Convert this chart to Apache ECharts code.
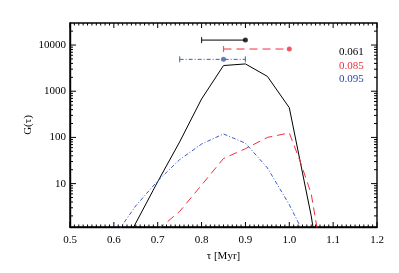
<!DOCTYPE html>
<html>
<head>
<meta charset="utf-8">
<script src="https://cdn.jsdelivr.net/npm/echarts@6/dist/echarts.min.js"></script>
<style>html,body{margin:0;padding:0;background:#fff}#c{width:399px;height:273px}#err{position:absolute;left:0;top:0;font:8px sans-serif;color:#c00;max-width:399px}</style>
</head>
<body>
<div id="c"></div>
<div id="err"></div>
<script>
window.onerror = function (msg, src, line, col) {
  document.getElementById('err').textContent += ' ERR: ' + msg + ' @' + line + ':' + col;
};
// tau grid [Myr] and G(tau) values for each series
const tauBlack = [0.60, 0.65, 0.70, 0.75, 0.80, 0.85, 0.90, 0.95, 1.00, 1.05, 1.10];
const gBlack   = [0.17, 1.4, 11, 80, 680, 3600, 3900, 2100, 440, 2.0, 0.002];
const tauRed   = [0.70, 0.75, 0.80, 0.85, 0.90, 0.95, 1.00, 1.025, 1.05, 1.10];
const gRed     = [1.0, 2.5, 9.3, 35, 57, 100, 125, 30, 6, 0.01];
const tauBlue  = [0.60, 0.65, 0.70, 0.75, 0.80, 0.85, 0.90, 0.95, 1.00, 1.05];
const gBlue    = [0.7, 3.3, 11.5, 33, 72, 119, 75, 22, 3.5, 0.4];
// peak markers (dot) with horizontal range bars
const barLo   = [0.80, 0.85, 0.75];
const barHi   = [0.90, 1.00, 0.90];
const peakTau = [0.90, 1.00, 0.85];
const peakG   = [12800, 8200, 4900];
const legendNames = ['0.061', '0.085', '0.095'];
const colors = ['#000000', '#ee2f3c', '#3c5cbc'];
const legendColors = ['#000000', '#e8303c', '#2a46a8'];
const dashTypes = ['solid', [8, 5], [4, 2, 1, 2]];
const xTicks = [0.5, 0.6, 0.7, 0.8, 0.9, 1.0, 1.1, 1.2];
const yMajor = [10, 100, 1000, 10000];

const X_MIN = 0.5, X_MAX = 1.2, Y_MIN = 1.15, Y_MAX = 30000;
const xMinor = [];
for (let i = 50; i <= 120; i++) if (i % 10 !== 0) xMinor.push(i / 100);
const yMinor = [];
for (let e = 0; e <= 4; e++) for (let k = 2; k <= 9; k++) {
  const v = k * Math.pow(10, e);
  if (v > Y_MIN && v < Y_MAX) yMinor.push(v);
}
const FONT = 'Liberation Serif';
const zip = (a, b) => a.map((t, i) => [t, b[i]]);

// inward tick combs on the four box edges, placed through the axes' scales
function xTickSeries(vals, len) {
  return {
    type: 'custom', silent: true, animation: false, z: 10,
    encode: {x: 0, y: 1},
    data: vals.map(v => [v, 100]),
    renderItem: function (params, api) {
      const b = api.coord([api.value(0), Y_MIN]);
      const t = api.coord([api.value(0), Y_MAX]);
      return {type: 'group', children: [
        {type: 'line', shape: {x1: b[0], y1: b[1], x2: b[0], y2: b[1] - len}, style: {stroke: '#000', lineWidth: 1}},
        {type: 'line', shape: {x1: t[0], y1: t[1], x2: t[0], y2: t[1] + len}, style: {stroke: '#000', lineWidth: 1}}
      ]};
    }
  };
}
function yTickSeries(vals, len) {
  return {
    type: 'custom', silent: true, animation: false, z: 10,
    encode: {x: 0, y: 1},
    data: vals.map(v => [0.8, v]),
    renderItem: function (params, api) {
      const l = api.coord([X_MIN, api.value(1)]);
      const r = api.coord([X_MAX, api.value(1)]);
      return {type: 'group', children: [
        {type: 'line', shape: {x1: l[0], y1: l[1], x2: l[0] + len, y2: l[1]}, style: {stroke: '#000', lineWidth: 1}},
        {type: 'line', shape: {x1: r[0], y1: r[1], x2: r[0] - len, y2: r[1]}, style: {stroke: '#000', lineWidth: 1}}
      ]};
    }
  };
}

const series = [
  xTickSeries(xTicks, 5),
  xTickSeries(xMinor, 2.5),
  yTickSeries(yMajor, 6),
  yTickSeries(yMinor, 3),
  {name: legendNames[0], type: 'line', data: zip(tauBlack, gBlack), symbol: 'none',
    lineStyle: {color: colors[0], width: 1}},
  {name: legendNames[1], type: 'line', data: zip(tauRed, gRed), symbol: 'none',
    lineStyle: {color: colors[1], width: 1, type: dashTypes[1]}},
  {name: legendNames[2], type: 'line', data: zip(tauBlue, gBlue), symbol: 'none',
    lineStyle: {color: colors[2], width: 1, type: dashTypes[2]}}
];
for (let i = 0; i < 3; i++) {
  // range bar
  series.push({type: 'line', symbol: 'none', z: 3,
    data: [[barLo[i], peakG[i]], [barHi[i], peakG[i]]],
    lineStyle: {color: colors[i], width: 1, type: dashTypes[i]}});
  // end caps (left cap always; right cap where the bar extends past the dot)
  const caps = [[barLo[i], peakG[i]]];
  if (barHi[i] !== peakTau[i]) caps.push([barHi[i], peakG[i]]);
  series.push({type: 'scatter', symbol: 'rect', symbolSize: [1.2, 6], z: 3, data: caps,
    itemStyle: {color: colors[i]}});
  // peak dot
  series.push({type: 'scatter', symbol: 'circle', symbolSize: 5, z: 4,
    data: [[peakTau[i], peakG[i]]], itemStyle: {color: colors[i]}});
}

const txt = (s, c) => ({text: s, fill: c, font: '11px "' + FONT + '"'});
const graphics = legendNames.map((n, i) => ({
  type: 'text', left: 339, top: 47 + i * 13.5, style: txt(n, legendColors[i])
})).concat([
  {type: 'text', x: 28.5, y: 125, rotation: Math.PI / 2,
   style: Object.assign(txt('G(τ)', '#000'), {align: 'center', verticalAlign: 'middle'})},
  {type: 'text', x: 223.5, y: 256.5,
   style: Object.assign(txt('τ [Myr]', '#000'), {align: 'center', verticalAlign: 'middle'})}
]);

const chart = echarts.init(document.getElementById('c'));
chart.setOption({
  animation: false,
  grid: {left: 70, top: 23, width: 307, height: 204, show: true, borderColor: '#000', borderWidth: 1.4,
         backgroundColor: 'rgba(0,0,0,0)'},
  graphic: graphics,
  xAxis: {
    type: 'value', min: X_MIN, max: X_MAX, interval: 0.1,
    axisLine: {show: true, onZero: false, lineStyle: {color: '#000', width: 1.4}},
    axisTick: {show: false}, splitLine: {show: false},
    axisLabel: {fontFamily: FONT, fontSize: 11, color: '#000', margin: 8,
      formatter: function (v) { return Number(v).toFixed(1); }}
  },
  yAxis: {
    type: 'log', logBase: 10, min: Y_MIN, max: Y_MAX,
    axisLine: {show: true, lineStyle: {color: '#000', width: 1.4}},
    axisTick: {show: false}, splitLine: {show: false},
    axisLabel: {fontFamily: FONT, fontSize: 11, color: '#000', margin: 4,
      formatter: function (v) {
        const n = Number(v), e = Math.round(Math.log10(n));
        return (e >= 1 && Math.abs(n - Math.pow(10, e)) < 1e-6 * n) ? String(Math.pow(10, e)) : '';
      }}
  },
  series: series
});
</script>
</body>
</html>
